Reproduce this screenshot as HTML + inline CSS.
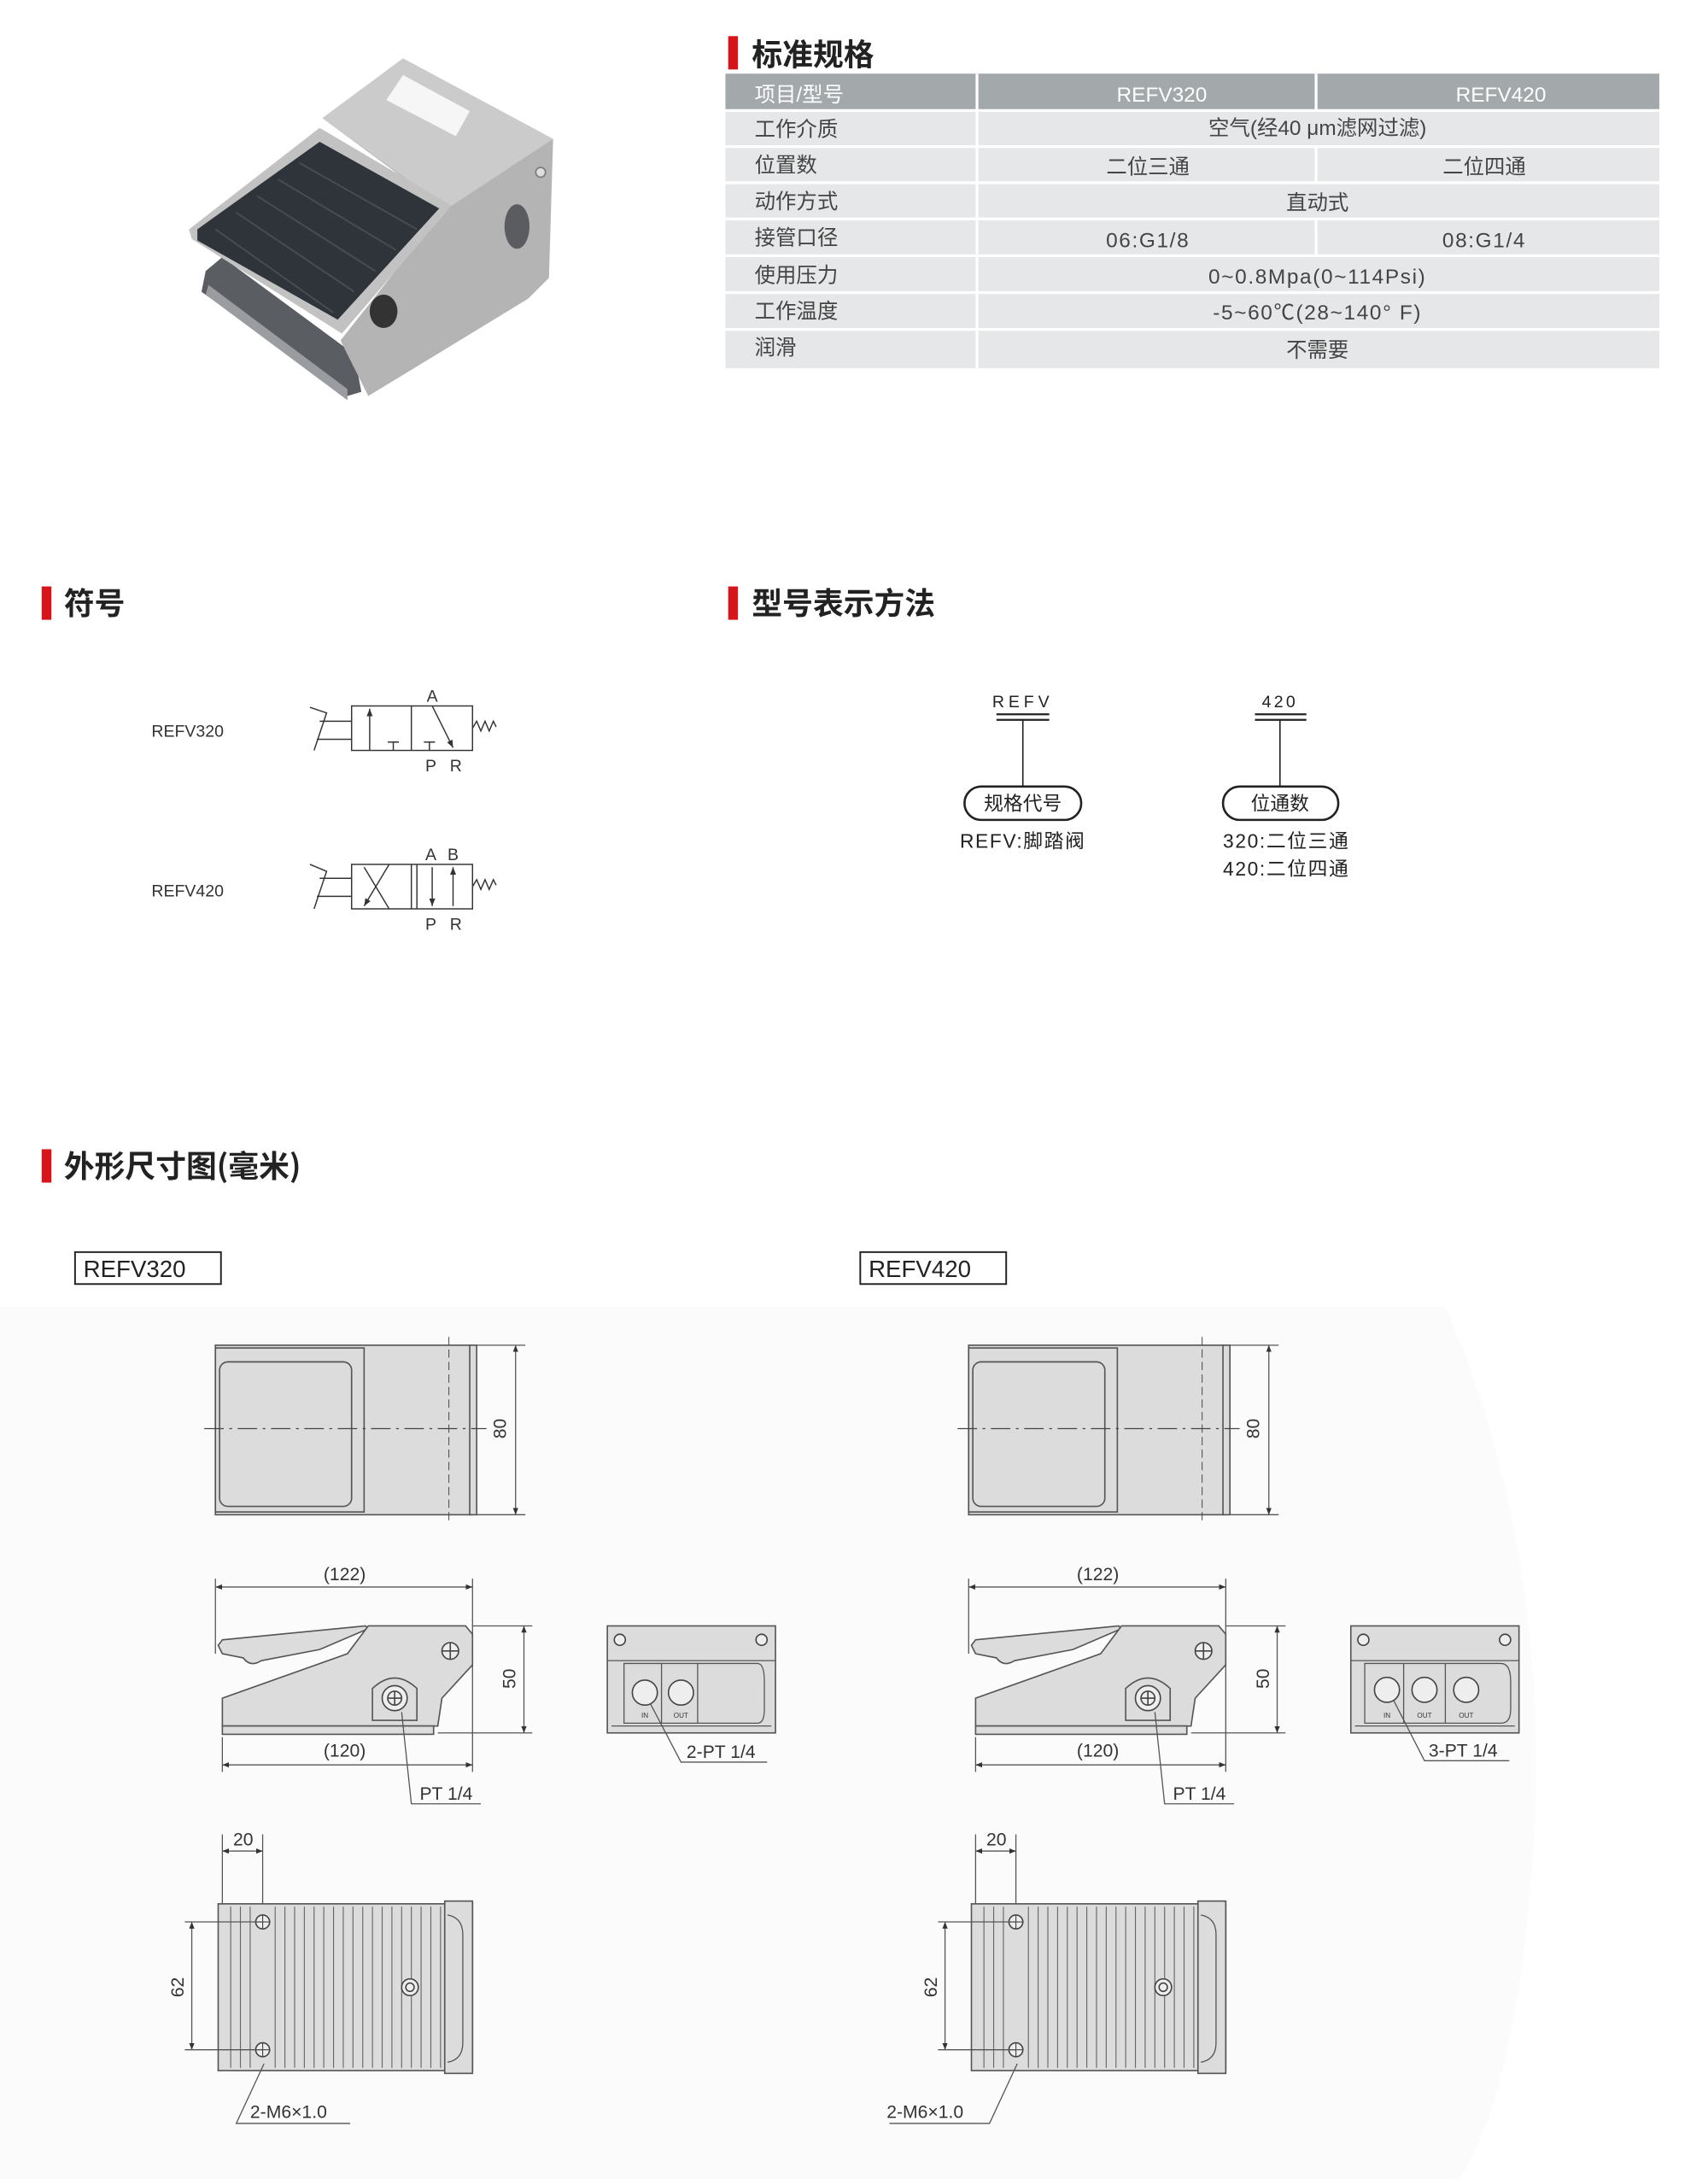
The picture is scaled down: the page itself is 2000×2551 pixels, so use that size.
<!DOCTYPE html>
<html><head><meta charset="utf-8"><style>
html,body{margin:0;padding:0;background:#fff}
svg{display:block}
text{font-family:"Liberation Sans","Noto Sans CJK SC",sans-serif}
.cj{font-family:"Noto Sans CJK SC","Liberation Sans",sans-serif}
.tt{font-family:"Noto Sans CJK SC",sans-serif;font-weight:bold;font-size:22px;fill:#222}
.tb{font-family:"Noto Sans CJK SC",sans-serif;font-size:15px;fill:#444}
.dm{font-family:"Liberation Sans",sans-serif;font-size:13px;fill:#333}
.ln{stroke:#555;stroke-width:0.8;fill:none}
.bd{stroke:#555;stroke-width:1;fill:#dcdcdc}
</style></head><body>
<svg width="2000" height="2551" viewBox="0 0 1229 1568" preserveAspectRatio="none" xmlns="http://www.w3.org/2000/svg">
<defs>
<marker id="ar" viewBox="0 0 10 10" refX="10" refY="5" markerWidth="6" markerHeight="6" orient="auto-start-reverse"><path d="M0,1 L10,5 L0,9z" fill="#333"/></marker>
<g id="top">
 <rect x="155" y="968" width="185" height="122" class="bd" fill="#e2e2e2"/>
 <rect x="155" y="970" width="107" height="118" class="bd" fill="#d8d8d8"/>
 <rect x="158" y="980" width="95" height="104" rx="6" class="bd" fill="#e0e0e0"/>
 <rect x="338" y="968" width="5" height="122" class="bd"/>
 <line x1="147" y1="1028" x2="350" y2="1028" stroke="#444" stroke-width="0.8" stroke-dasharray="14,4,2,4"/>
 <line x1="323" y1="962" x2="323" y2="1096" stroke="#444" stroke-width="0.6" stroke-dasharray="6,3"/>
 <line x1="340" y1="968" x2="378" y2="968" class="ln"/><line x1="340" y1="1090" x2="378" y2="1090" class="ln"/>
 <line x1="371" y1="968" x2="371" y2="1090" class="ln" marker-start="url(#ar)" marker-end="url(#ar)"/>
 <text class="dm" transform="translate(364,1028) rotate(-90)" text-anchor="middle">80</text>
</g>
<g id="side">
 <line x1="155" y1="1136" x2="155" y2="1190" class="ln"/><line x1="340" y1="1136" x2="340" y2="1275" class="ln"/>
 <line x1="155" y1="1142" x2="340" y2="1142" class="ln" marker-start="url(#ar)" marker-end="url(#ar)"/>
 <text class="dm" x="248" y="1137" text-anchor="middle">(122)</text>
 <path d="M157,1184 L160,1190 L175,1193 Q180,1200 188,1195 L230,1187 L265,1172 L263,1170 L160,1180z" class="bd"/>
 <path d="M265,1170 L335,1170 L340,1176 L340,1198 L318,1222 L315,1242 L160,1242 L160,1222 L250,1190z" class="bd"/>
 <rect x="160" y="1242" width="152" height="6" class="bd" fill="#cfcfcf"/>
 <circle cx="324" cy="1188" r="6" fill="#eee" stroke="#444"/><path d="M318,1188h12M324,1182v12" stroke="#444"/>
 <path d="M268,1238 L268,1215 Q284,1200 300,1215 L300,1238z" class="bd"/>
 <circle cx="284" cy="1222" r="9" fill="#eee" stroke="#444"/><circle cx="284" cy="1222" r="5" fill="none" stroke="#444"/><path d="M279,1222h10M284,1217v10" stroke="#444"/>
 <line x1="340" y1="1170" x2="383" y2="1170" class="ln"/><line x1="315" y1="1247" x2="383" y2="1247" class="ln"/>
 <line x1="377" y1="1170" x2="377" y2="1247" class="ln" marker-start="url(#ar)" marker-end="url(#ar)"/>
 <text class="dm" transform="translate(371,1208) rotate(-90)" text-anchor="middle">50</text>
 <line x1="160" y1="1250" x2="160" y2="1275" class="ln"/>
 <line x1="160" y1="1270" x2="340" y2="1270" class="ln" marker-start="url(#ar)" marker-end="url(#ar)"/>
 <text class="dm" x="248" y="1264" text-anchor="middle">(120)</text>
 <polyline points="289,1232 296,1298 346,1298" class="ln"/>
 <text class="dm" x="302" y="1295">PT 1/4</text>
</g>
<g id="bot">
 <line x1="160" y1="1320" x2="160" y2="1370" class="ln"/><line x1="189" y1="1320" x2="189" y2="1383" class="ln"/>
 <line x1="160" y1="1332" x2="189" y2="1332" class="ln" marker-start="url(#ar)" marker-end="url(#ar)"/>
 <text class="dm" x="175" y="1328" text-anchor="middle">20</text>
 <rect x="157" y="1370" width="183" height="120" class="bd" fill="#e0e0e0"/>
 <rect x="320" y="1368" width="20" height="124" class="bd" fill="#e4e4e4"/>
 <path d="M322,1378 Q333,1380 333,1392 L333,1470 Q333,1482 322,1484" class="ln"/>
 <g stroke="#666" stroke-width="0.7">
 <line x1="166" y1="1372" x2="166" y2="1488"/><line x1="173" y1="1372" x2="173" y2="1488"/><line x1="180" y1="1372" x2="180" y2="1488"/>
 <line x1="198" y1="1372" x2="198" y2="1488"/><line x1="205" y1="1372" x2="205" y2="1488"/><line x1="212" y1="1372" x2="212" y2="1488"/><line x1="219" y1="1372" x2="219" y2="1488"/><line x1="226" y1="1372" x2="226" y2="1488"/><line x1="233" y1="1372" x2="233" y2="1488"/><line x1="240" y1="1372" x2="240" y2="1488"/><line x1="247" y1="1372" x2="247" y2="1488"/><line x1="254" y1="1372" x2="254" y2="1488"/><line x1="261" y1="1372" x2="261" y2="1488"/><line x1="268" y1="1372" x2="268" y2="1488"/><line x1="275" y1="1372" x2="275" y2="1488"/><line x1="282" y1="1372" x2="282" y2="1488"/><line x1="289" y1="1372" x2="289" y2="1488"/><line x1="296" y1="1372" x2="296" y2="1488"/><line x1="303" y1="1372" x2="303" y2="1488"/><line x1="310" y1="1372" x2="310" y2="1488"/><line x1="317" y1="1372" x2="317" y2="1488"/>
 </g>
 <circle cx="189" cy="1383" r="5" fill="#eee" stroke="#444"/><circle cx="189" cy="1475" r="5" fill="#eee" stroke="#444"/>
 <path d="M184,1383h10M189,1378v10M184,1475h10M189,1470v10" stroke="#444" stroke-width="0.7"/>
 <circle cx="295" cy="1430" r="6" fill="#eee" stroke="#444"/><circle cx="295" cy="1430" r="3" fill="none" stroke="#444"/>
 <line x1="133" y1="1383" x2="189" y2="1383" class="ln"/><line x1="133" y1="1475" x2="189" y2="1475" class="ln"/>
 <line x1="138" y1="1383" x2="138" y2="1475" class="ln" marker-start="url(#ar)" marker-end="url(#ar)"/>
 <text class="dm" transform="translate(132,1430) rotate(-90)" text-anchor="middle">62</text>
</g>
</defs>

<!-- photo (thumb coords) -->
<g>
 <polygon points="148,195 160,185 255,255 260,282 250,285 145,210" fill="#5a5d62"/>
 <polygon points="150,205 250,280 250,288 148,212" fill="#9a9c9f"/>
 <polygon points="232,85 290,42 398,100 395,200 380,215 265,285 245,245 320,150" fill="#b4b4b4"/>
 <polygon points="232,85 290,42 398,100 322,150" fill="#cbcbcb"/>
 <polygon points="136,165 230,92 325,148 246,240 138,172" fill="#c2c2c2"/>
 <polygon points="142,165 230,102 316,150 243,230 142,173" fill="#2f333a"/>
 <g stroke="#474c55" stroke-width="1.2">
  <line x1="155" y1="165" x2="240" y2="225"/><line x1="170" y1="153" x2="255" y2="210"/><line x1="185" y1="141" x2="270" y2="195"/><line x1="200" y1="129" x2="285" y2="180"/><line x1="215" y1="117" x2="300" y2="165"/>
 </g>
 <ellipse cx="372" cy="163" rx="9" ry="16" fill="#5a5c60"/>
 <ellipse cx="276" cy="224" rx="10" ry="12" fill="#333"/>
 <polygon points="278,72 290,54 338,80 328,98" fill="#f6f6f6"/>
 <circle cx="389" cy="124" r="3.5" fill="#ddd" stroke="#777"/>
</g>

<!-- 标准规格 -->
<rect x="524" y="26" width="7" height="24" fill="#d7141a"/>
<text class="tt" x="541" y="47">标准规格</text>
<rect x="522" y="53" width="672" height="26" fill="#a3a8ab"/>
<rect x="522" y="80" width="672" height="185" fill="#e6e7e8"/>
<g stroke="#fff" stroke-width="2">
<line x1="522" y1="79.5" x2="1194" y2="79.5"/><line x1="522" y1="105.5" x2="1194" y2="105.5"/><line x1="522" y1="131.5" x2="1194" y2="131.5"/><line x1="522" y1="157.5" x2="1194" y2="157.5"/><line x1="522" y1="184" x2="1194" y2="184"/><line x1="522" y1="210.5" x2="1194" y2="210.5"/><line x1="522" y1="237" x2="1194" y2="237"/>
<line x1="703" y1="53" x2="703" y2="265"/><line x1="947" y1="53" x2="947" y2="79"/><line x1="947" y1="105" x2="947" y2="131"/><line x1="947" y1="157" x2="947" y2="184"/>
</g>
<g class="tb">
<text x="543" y="73" fill="#fff">项目/型号</text><text x="836" y="73" fill="#fff" text-anchor="middle">REFV320</text><text x="1080" y="73" fill="#fff" text-anchor="middle">REFV420</text>
<text x="543" y="98">工作介质</text><text x="948" y="97" text-anchor="middle">空气(经40 μm滤网过滤)</text>
<text x="543" y="124">位置数</text><text x="826" y="125" text-anchor="middle">二位三通</text><text x="1068" y="125" text-anchor="middle">二位四通</text>
<text x="543" y="150">动作方式</text><text x="948" y="151" text-anchor="middle">直动式</text>
<text x="543" y="176">接管口径</text><text x="826" y="178" text-anchor="middle" letter-spacing="1">06:G1/8</text><text x="1068" y="178" text-anchor="middle" letter-spacing="1">08:G1/4</text>
<text x="543" y="203">使用压力</text><text x="948" y="204" text-anchor="middle" letter-spacing="1">0~0.8Mpa(0~114Psi)</text>
<text x="543" y="229">工作温度</text><text x="948" y="230" text-anchor="middle" letter-spacing="1">-5~60℃(28~140° F)</text>
<text x="543" y="255">润滑</text><text x="948" y="257" text-anchor="middle">不需要</text>
</g>

<!-- 符号 -->
<rect x="30" y="422" width="7" height="24" fill="#d7141a"/>
<text class="tt" x="46" y="442">符号</text>
<rect x="524" y="422" width="7" height="24" fill="#d7141a"/>
<text class="tt" x="541" y="442">型号表示方法</text>

<g stroke="#333" stroke-width="0.9" fill="none">
 <rect x="253" y="508" width="87" height="32"/><line x1="296" y1="508" x2="296" y2="540"/>
 <line x1="266" y1="540" x2="266" y2="510" marker-end="url(#ar)"/>
 <path d="M279,534h8M283,534v6M305,534h8M309,534v6"/>
 <line x1="311" y1="508" x2="326" y2="538" marker-end="url(#ar)"/>
 <path d="M223,509 L235,513 L226,540 M230,519 H253 M228,532 H253"/>
 <path d="M340,524 l3,-5 l3,7 l3,-7 l3,7 l3,-7 l2,4"/>
 <rect x="253" y="622" width="87" height="32"/><line x1="296" y1="622" x2="296" y2="654"/>
 <line x1="262" y1="624" x2="280" y2="654"/><line x1="280" y1="622" x2="262" y2="652" marker-end="url(#ar)"/>
 <line x1="300" y1="622" x2="300" y2="654"/>
 <line x1="311" y1="624" x2="311" y2="652" marker-end="url(#ar)"/>
 <line x1="326" y1="652" x2="326" y2="624" marker-end="url(#ar)"/>
 <path d="M223,622 L235,627 L226,654 M230,632 H253 M228,645 H253"/>
 <path d="M340,638 l3,-5 l3,7 l3,-7 l3,7 l3,-7 l2,4"/>
</g>
<g font-family="Liberation Sans,sans-serif" font-size="12" fill="#333">
 <text x="109" y="530">REFV320</text><text x="109" y="645">REFV420</text>
 <text x="311" y="505" text-anchor="middle">A</text><text x="310" y="555" text-anchor="middle">P</text><text x="328" y="555" text-anchor="middle">R</text>
 <text x="310" y="619" text-anchor="middle">A</text><text x="326" y="619" text-anchor="middle">B</text><text x="310" y="669" text-anchor="middle">P</text><text x="328" y="669" text-anchor="middle">R</text>
</g>

<!-- 型号表示方法 -->
<g stroke="#222" fill="none">
 <path d="M717,514h38M717,518h38M903,514h37M903,518h37" stroke-width="1.4"/>
 <path d="M736,518v48M921,518v48" stroke-width="1"/>
 <rect x="694" y="566" width="84" height="24" rx="12" stroke-width="1.6"/>
 <rect x="880" y="566" width="83" height="24" rx="12" stroke-width="1.6"/>
</g>
<g class="cj" font-size="14" fill="#222">
 <text x="736" y="509" text-anchor="middle" letter-spacing="3" font-size="12">REFV</text>
 <text x="921" y="509" text-anchor="middle" letter-spacing="2" font-size="12">420</text>
 <text x="736" y="583" text-anchor="middle">规格代号</text>
 <text x="921" y="583" text-anchor="middle">位通数</text>
 <text x="736" y="610" text-anchor="middle" letter-spacing="1">REFV:脚踏阀</text>
 <text x="880" y="610" letter-spacing="1">320:二位三通</text>
 <text x="880" y="630" letter-spacing="1">420:二位四通</text>
</g>

<!-- 外形尺寸图 -->
<rect x="30" y="827" width="7" height="24" fill="#d7141a"/>
<text class="tt" x="46" y="847">外形尺寸图(毫米)</text>
<path d="M0,940 H1040 Q1110,1100 1105,1300 Q1095,1500 1050,1568 H0z" fill="#fcfbfb"/>
<rect x="54" y="901" width="105" height="23" fill="#fff" stroke="#222" stroke-width="1.2"/>
<text x="60" y="919" font-family="Liberation Sans,sans-serif" font-size="17" fill="#222">REFV320</text>
<rect x="619" y="901" width="105" height="23" fill="#fff" stroke="#222" stroke-width="1.2"/>
<text x="625" y="919" font-family="Liberation Sans,sans-serif" font-size="17" fill="#222">REFV420</text>

<use href="#top"/><use href="#side"/><use href="#bot"/>
<g transform="translate(542,0)"><use href="#top"/><use href="#side"/><use href="#bot"/></g>

<!-- front views -->
<g>
 <rect x="437" y="1170" width="121" height="77" class="bd" fill="#e0e0e0"/>
 <line x1="437" y1="1195" x2="558" y2="1195" class="ln"/><line x1="440" y1="1242" x2="555" y2="1242" class="ln"/>
 <circle cx="446" cy="1180" r="4" fill="#eee" stroke="#444"/><circle cx="548" cy="1180" r="4" fill="#eee" stroke="#444"/>
 <path d="M449,1197 H545 Q550,1197 550,1210 V1230 Q550,1240 545,1240 H449z" class="ln"/>
 <line x1="476" y1="1197" x2="476" y2="1240" class="ln"/><line x1="502" y1="1197" x2="502" y2="1240" class="ln"/>
 <circle cx="464" cy="1218" r="9" fill="#eee" stroke="#444"/><circle cx="490" cy="1218" r="9" fill="#eee" stroke="#444"/>
 <text x="464" y="1236" font-size="5" text-anchor="middle" fill="#333">IN</text><text x="490" y="1236" font-size="5" text-anchor="middle" fill="#333">OUT</text>
 <polyline points="468,1226 490,1268 552,1268" class="ln"/>
 <text class="dm" x="494" y="1265">2-PT 1/4</text>
</g>
<g>
 <rect x="972" y="1170" width="121" height="77" class="bd" fill="#e0e0e0"/>
 <line x1="972" y1="1195" x2="1093" y2="1195" class="ln"/><line x1="975" y1="1242" x2="1090" y2="1242" class="ln"/>
 <circle cx="981" cy="1180" r="4" fill="#eee" stroke="#444"/><circle cx="1083" cy="1180" r="4" fill="#eee" stroke="#444"/>
 <path d="M982,1197 H1080 Q1087,1197 1087,1210 V1230 Q1087,1240 1080,1240 H982z" class="ln"/>
 <line x1="1010" y1="1197" x2="1010" y2="1240" class="ln"/><line x1="1040" y1="1197" x2="1040" y2="1240" class="ln"/>
 <circle cx="998" cy="1216" r="9" fill="#eee" stroke="#444"/><circle cx="1025" cy="1216" r="9" fill="#eee" stroke="#444"/><circle cx="1055" cy="1216" r="9" fill="#eee" stroke="#444"/>
 <text x="998" y="1236" font-size="5" text-anchor="middle" fill="#333">IN</text><text x="1025" y="1236" font-size="5" text-anchor="middle" fill="#333">OUT</text><text x="1055" y="1236" font-size="5" text-anchor="middle" fill="#333">OUT</text>
 <polyline points="1003,1224 1025,1267 1086,1267" class="ln"/>
 <text class="dm" x="1028" y="1264">3-PT 1/4</text>
</g>
<g>
 <polyline points="190,1485 170,1528 252,1528" class="ln"/>
 <text class="dm" x="180" y="1524">2-M6×1.0</text>
 <polyline points="732,1485 712,1528 640,1528" class="ln"/>
 <text class="dm" x="638" y="1524">2-M6×1.0</text>
</g>
</svg>
</body></html>
